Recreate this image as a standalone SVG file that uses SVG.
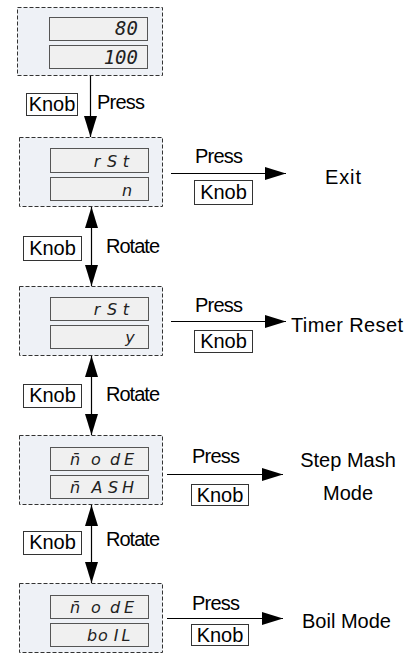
<svg xmlns="http://www.w3.org/2000/svg" width="414" height="654" viewBox="0 0 414 654">
<defs>
<style>
.outer{fill:#eef1f6;stroke:#333;stroke-width:1;stroke-dasharray:4,2}
.inner{fill:#f0f0f0;stroke:#555;stroke-width:1}
.seg{font-family:"DejaVu Sans","Liberation Sans",sans-serif;font-style:italic;font-size:16px;fill:#222;text-anchor:middle}
.dig{font-family:"DejaVu Sans Mono","Liberation Mono",monospace;font-style:italic;font-size:19px;fill:#222;text-anchor:end}
.lbl{font-family:"Liberation Sans",Arial,sans-serif;font-size:20px;fill:#000}
.kb{fill:#fff;stroke:#333;stroke-width:1}
.conn{stroke:#000;stroke-width:1.2;fill:none}
</style>
<marker id="ah" markerUnits="userSpaceOnUse" markerWidth="21" markerHeight="13" refX="21" refY="6.5" orient="auto-start-reverse">
<path d="M0,0 L21,6.5 L0,13 z" fill="#000"/>
</marker>
</defs>
<rect width="414" height="654" fill="#fff"/>

<g id="node1">
<rect class="outer" x="17.5" y="7.5" width="145" height="68"/>
<rect class="inner" x="49.5" y="17.5" width="98" height="23"/>
<rect class="inner" x="49.5" y="45.5" width="98" height="23"/>
<text class="dig" x="138" y="35">80</text>
<text class="dig" x="138" y="64">100</text>
</g>

<g id="node2">
<rect class="outer" x="19.5" y="137.5" width="143" height="69"/>
<rect class="inner" x="50.5" y="148.5" width="98" height="24"/>
<rect class="inner" x="50.5" y="177.5" width="98" height="23"/>
<text class="seg" y="167"><tspan x="97">r</tspan><tspan x="112">S</tspan><tspan x="126">t</tspan></text>
<text class="seg" y="196"><tspan x="127">n</tspan></text>
</g>

<g id="node3">
<rect class="outer" x="19.5" y="286.5" width="143" height="69"/>
<rect class="inner" x="50.5" y="297.5" width="98" height="23"/>
<rect class="inner" x="50.5" y="325.5" width="98" height="23"/>
<text class="seg" y="315"><tspan x="97">r</tspan><tspan x="112">S</tspan><tspan x="126">t</tspan></text>
<text class="seg" y="343"><tspan x="130">y</tspan></text>
</g>

<g id="node4">
<rect class="outer" x="19.5" y="435.5" width="143" height="69"/>
<rect class="inner" x="50.5" y="447.5" width="98" height="23"/>
<rect class="inner" x="50.5" y="475.5" width="98" height="23"/>
<text class="seg" y="465"><tspan x="75">n̄</tspan><tspan x="96">o</tspan><tspan x="115">d</tspan><tspan x="129">E</tspan></text>
<text class="seg" y="493"><tspan x="75">n̄</tspan><tspan x="97">A</tspan><tspan x="113">S</tspan><tspan x="128">H</tspan></text>
</g>

<g id="node5">
<rect class="outer" x="19.5" y="583.5" width="143" height="69"/>
<rect class="inner" x="50.5" y="595.5" width="98" height="23"/>
<rect class="inner" x="50.5" y="623.5" width="98" height="23"/>
<text class="seg" y="613"><tspan x="75">n̄</tspan><tspan x="96">o</tspan><tspan x="115">d</tspan><tspan x="129">E</tspan></text>
<text class="seg" y="641"><tspan x="92">b</tspan><tspan x="103">o</tspan><tspan x="116">I</tspan><tspan x="126">L</tspan></text>
</g>

<g id="exit"><text class="lbl" x="325" y="184" textLength="36">Exit</text></g>
<g id="timer-reset"><text class="lbl" x="291" y="332" textLength="112">Timer Reset</text></g>
<g id="step-mash"><text class="lbl" x="348" y="467" text-anchor="middle">Step Mash</text><text class="lbl" x="348" y="500" text-anchor="middle">Mode</text></g>
<g id="boil-mode"><text class="lbl" x="302" y="628">Boil Mode</text></g>

<g id="connectors">
<line class="conn" x1="90.5" y1="76" x2="90.5" y2="137" marker-end="url(#ah)"/>
<line class="conn" x1="171" y1="173.5" x2="286" y2="173.5" marker-end="url(#ah)"/>
<line class="conn" x1="171" y1="321.5" x2="286" y2="321.5" marker-end="url(#ah)"/>
<line class="conn" x1="167" y1="474.5" x2="283" y2="474.5" marker-end="url(#ah)"/>
<line class="conn" x1="167" y1="618.5" x2="283" y2="618.5" marker-end="url(#ah)"/>
<line class="conn" x1="91.5" y1="207" x2="91.5" y2="286" marker-start="url(#ah)" marker-end="url(#ah)"/>
<line class="conn" x1="91.5" y1="356" x2="91.5" y2="435" marker-start="url(#ah)" marker-end="url(#ah)"/>
<line class="conn" x1="91.5" y1="505" x2="91.5" y2="583" marker-start="url(#ah)" marker-end="url(#ah)"/>

<rect class="kb" x="26.5" y="93.5" width="51" height="22"/>
<text class="lbl" x="52" y="111" text-anchor="middle">Knob</text>
<text class="lbl" x="97" y="109" textLength="48">Press</text>

<text class="lbl" x="195" y="163" textLength="48">Press</text>
<rect class="kb" x="194.5" y="180.5" width="58" height="24"/>
<text class="lbl" x="223.5" y="199" text-anchor="middle">Knob</text>

<rect class="kb" x="23.5" y="236.5" width="58" height="24"/>
<text class="lbl" x="52.5" y="255" text-anchor="middle">Knob</text>
<text class="lbl" x="106" y="253" textLength="54">Rotate</text>

<text class="lbl" x="195" y="312" textLength="48">Press</text>
<rect class="kb" x="194.5" y="330.5" width="58" height="22"/>
<text class="lbl" x="223.5" y="348" text-anchor="middle">Knob</text>

<rect class="kb" x="23.5" y="384.5" width="58" height="23"/>
<text class="lbl" x="52.5" y="402" text-anchor="middle">Knob</text>
<text class="lbl" x="106" y="401" textLength="54">Rotate</text>

<text class="lbl" x="192" y="463" textLength="48">Press</text>
<rect class="kb" x="191.5" y="484.5" width="57" height="21"/>
<text class="lbl" x="220" y="502" text-anchor="middle">Knob</text>

<rect class="kb" x="23.5" y="531.5" width="58" height="23"/>
<text class="lbl" x="52.5" y="549" text-anchor="middle">Knob</text>
<text class="lbl" x="106" y="546" textLength="54">Rotate</text>

<text class="lbl" x="192" y="610" textLength="48">Press</text>
<rect class="kb" x="191.5" y="624.5" width="57" height="21"/>
<text class="lbl" x="220" y="642" text-anchor="middle">Knob</text>
</g>
</svg>
